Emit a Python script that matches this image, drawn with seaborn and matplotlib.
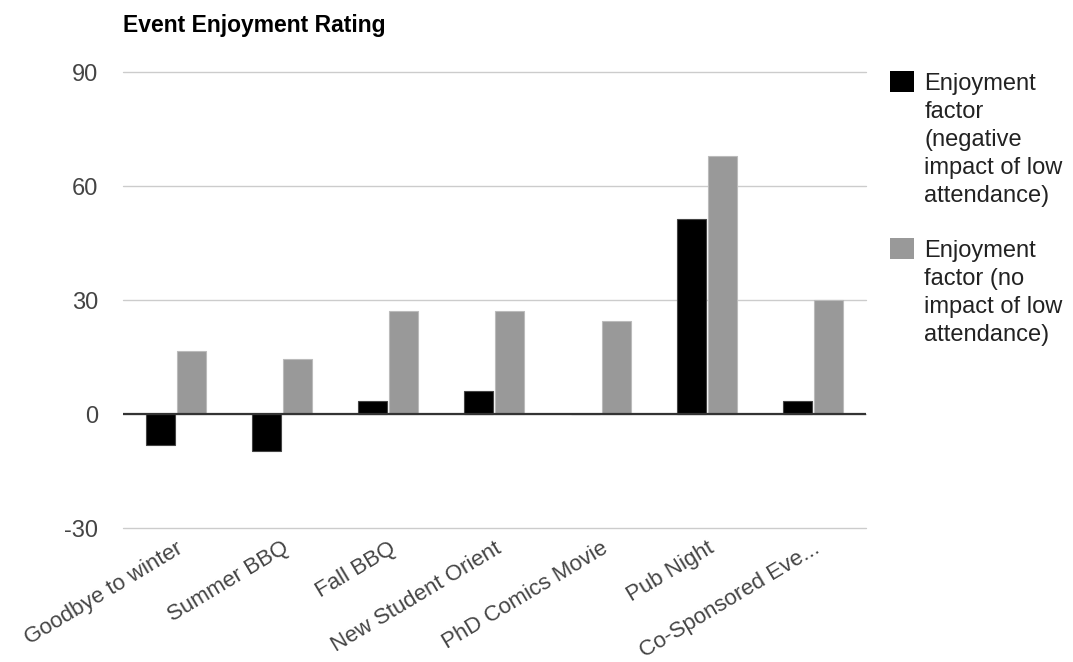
"""Event Enjoyment Rating grouped bar chart."""

import matplotlib

matplotlib.use("Agg")

import matplotlib.pyplot as plt
import pandas as pd
import seaborn as sns

# Values
events = [
    "Goodbye to winter",
    "Summer BBQ",
    "Fall BBQ",
    "New Student Orient",
    "PhD Comics Movie",
    "Pub Night",
    "Co-Sponsored Eve...",
]
negative_impact = [-8.2, -9.7, 3.4, 6.0, 0.0, 51.4, 3.4]
no_impact = [16.6, 14.5, 27.1, 27.1, 24.5, 67.9, 30.1]

series_names = [
    "Enjoyment\nfactor\n(negative\nimpact of low\nattendance)",
    "Enjoyment\nfactor (no\nimpact of low\nattendance)",
]
y_ticks = [-30, 0, 30, 60, 90]

df = pd.DataFrame({"Event": events, series_names[0]: negative_impact, series_names[1]: no_impact})
long_df = df.melt(id_vars="Event", var_name="Series", value_name="Rating")


def create_chart() -> None:
    sns.set_theme(style="white")
    plt.rcParams["font.family"] = ["Liberation Sans", "DejaVu Sans"]
    plt.rcParams["axes.unicode_minus"] = False

    fig = plt.figure(figsize=(10.73, 6.62), dpi=100)
    ax = fig.add_axes([0.1146, 0.2024, 0.807 - 0.1146, 0.8912 - 0.2024])

    sns.barplot(
        data=long_df,
        x="Event",
        y="Rating",
        hue="Series",
        hue_order=series_names,
        order=events,
        palette=["#000000", "#999999"],
        saturation=1,
        width=0.585,
        gap=0.065,
        ax=ax,
        zorder=3,
    )
    for patch, edge in zip(ax.patches, ["#444444"] * len(events) + ["#bbbbbb"] * len(events)):
        patch.set_edgecolor(edge)
        patch.set_linewidth(0.8)

    ax.set_ylim(-30, 90)
    ax.set_yticks(y_ticks)
    ax.yaxis.grid(True, color="#cccccc", linewidth=1)
    for gl in ax.get_ygridlines():
        gl.set_clip_on(False)
    ax.axhline(0, color="#333333", linewidth=1.6, zorder=4)
    sns.despine(ax=ax, left=True, bottom=True)

    ax.set_xlabel("")
    ax.set_ylabel("")
    ax.tick_params(axis="y", length=0, pad=18, labelsize=17, labelcolor="#444444")
    ax.tick_params(axis="x", length=0, pad=7, labelsize=16, labelcolor="#444444")
    for label in ax.get_xticklabels():
        label.set_rotation(31)
        label.set_ha("right")
        label.set_rotation_mode("anchor")

    ax.set_title("Event Enjoyment Rating", loc="left", fontsize=16.5, fontweight="bold",
                 color="#000000", pad=29)

    leg = ax.legend(
        loc="upper left",
        bbox_to_anchor=(890 / 1073, 1 - 73 / 662),
        bbox_transform=fig.transFigure,
        frameon=False,
        fontsize=17,
        handlelength=1.0,
        handleheight=1.0,
        handletextpad=0.45,
        labelspacing=1.4,
        borderpad=0,
        borderaxespad=0,
    )
    line_px = 28
    for text in leg.get_texts():
        text.set_linespacing(1.35)
        text.set_color("#222222")
    for patch, label in zip(leg.get_patches(), series_names):
        n_lines = label.count("\n") + 1
        shift_px = (n_lines - 1) / 2 * line_px + 3.0
        patch.set_y(patch.get_y() + shift_px * 72 / 100)
        patch.set_edgecolor("none")

    fig.savefig("out.png", dpi=100)
    plt.close(fig)


if __name__ == "__main__":
    create_chart()
